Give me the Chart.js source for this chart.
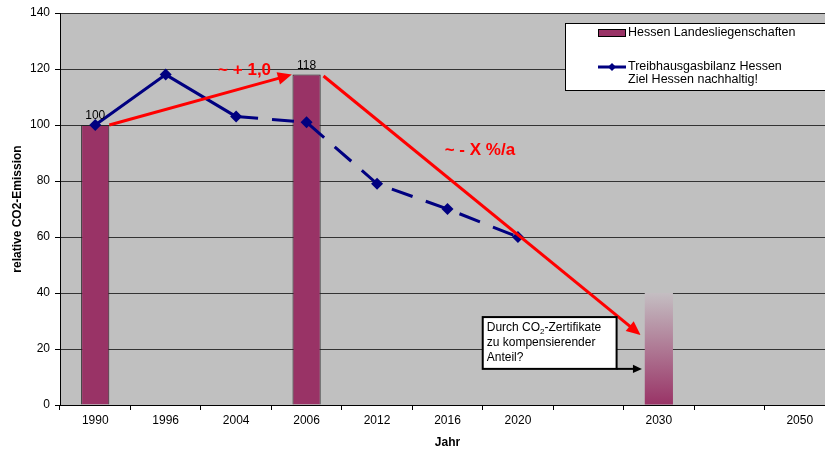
<!DOCTYPE html>
<html>
<head>
<meta charset="utf-8">
<script src="https://cdn.jsdelivr.net/npm/chart.js@4.4.1/dist/chart.umd.min.js"></script>
<style>
  html, body { margin: 0; padding: 0; overflow: hidden; background: #fff; }
</style>
</head>
<body>
<canvas id="chart" width="850" height="450"></canvas>
<script>
// Kategorien (leere Einträge halten die Abstände der Zeitachse)
const years = ['1990', '1996', '2004', '2006', '2012', '2016', '2020', '', '2030', '', '2050'];
// Landesliegenschaften (Balken)
const landesValues = [100, null, null, 118, null, null, null, null, null, null, null];
// offener Anteil 2030 (Verlaufsbalken)
const kompValues = [null, null, null, null, null, null, null, null, 40, null, null];
// Treibhausgasbilanz Hessen (Linie)
const bilanzValues = [100, 118, 103, 101, 79, 70, 60, null, null, null, null];
const bilanzDashedFrom = 2; // ab 2004 gestrichelt

// Trendpfeile in Achsenkoordinaten [Kategorie-Index, Wert]
const trendArrows = [
  { from: [0.2, 100], to: [2.79, 118] },
  { from: [3.24, 117.5], to: [7.74, 25] }
];
const trendLabels = [
  { text: '~ + 1,0', at: [2.12, 119.6] },
  { text: '~ - X %/a', at: [5.46, 91] }
];
// Hinweisbox, ebenfalls in Achsenkoordinaten
const noteBox = { from: [5.5, 31.4], to: [7.4, 12.9], arrowTo: 7.76 };
const noteLines = [['Durch CO', '2', '-Zertifikate'], ['zu kompensierender'], ['Anteil?']];

const FONT = "'Liberation Sans', Arial, sans-serif";
const PURPLE = '#993366';
const NAVY = '#000080';

const barValues = landesValues.map((v, i) => v != null ? v : kompValues[i]);

function drawArrow(ctx, x1, y1, x2, y2, color, width, head) {
  const ang = Math.atan2(y2 - y1, x2 - x1);
  ctx.save();
  ctx.strokeStyle = color;
  ctx.fillStyle = color;
  ctx.lineWidth = width;
  ctx.beginPath();
  ctx.moveTo(x1, y1);
  ctx.lineTo(x2 - Math.cos(ang) * head * 0.8, y2 - Math.sin(ang) * head * 0.8);
  ctx.stroke();
  ctx.beginPath();
  ctx.moveTo(x2, y2);
  ctx.lineTo(x2 - head * Math.cos(ang) + head * 0.45 * Math.sin(ang), y2 - head * Math.sin(ang) - head * 0.45 * Math.cos(ang));
  ctx.lineTo(x2 - head * Math.cos(ang) - head * 0.45 * Math.sin(ang), y2 - head * Math.sin(ang) + head * 0.45 * Math.cos(ang));
  ctx.closePath();
  ctx.fill();
  ctx.restore();
}

const overlay = {
  id: 'overlay',
  beforeDraw(chart) {
    const { ctx, chartArea: a } = chart;
    ctx.save();
    ctx.fillStyle = '#c0c0c0';
    ctx.fillRect(a.left, a.top, a.width, a.height);
    ctx.restore();
  },
  afterDatasetsDraw(chart) {
    const { ctx } = chart;
    const xs = chart.scales.x, ys = chart.scales.y;
    const px = i => xs.getPixelForValue(0) + (xs.getPixelForValue(1) - xs.getPixelForValue(0)) * i;
    const py = v => ys.getPixelForValue(v);

    // Werte über den Balken
    const meta = chart.getDatasetMeta(0);
    ctx.save();
    ctx.font = '12px ' + FONT;
    ctx.fillStyle = '#000';
    ctx.textAlign = 'center';
    ctx.textBaseline = 'bottom';
    landesValues.forEach((v, i) => {
      if (v == null) return;
      const bar = meta.data[i];
      ctx.fillText(String(v), bar.x, bar.y - 3);
    });
    ctx.restore();

    // rote Trendpfeile
    trendArrows.forEach(a => {
      drawArrow(ctx, px(a.from[0]), py(a.from[1]), px(a.to[0]), py(a.to[1]), '#ff0000', 3, 14);
    });
    ctx.save();
    ctx.font = 'bold 17px ' + FONT;
    ctx.fillStyle = '#ff0000';
    ctx.textAlign = 'center';
    ctx.textBaseline = 'middle';
    trendLabels.forEach(l => ctx.fillText(l.text, px(l.at[0]), py(l.at[1])));
    ctx.restore();

    // Hinweisbox mit Pfeil
    const bx1 = px(noteBox.from[0]), by1 = py(noteBox.from[1]);
    const bx2 = px(noteBox.to[0]), by2 = py(noteBox.to[1]);
    ctx.save();
    ctx.fillStyle = '#fff';
    ctx.fillRect(bx1, by1, bx2 - bx1, by2 - by1);
    ctx.strokeStyle = '#000';
    ctx.lineWidth = 2;
    ctx.strokeRect(bx1, by1, bx2 - bx1, by2 - by1);
    ctx.fillStyle = '#000';
    ctx.textBaseline = 'alphabetic';
    noteLines.forEach((parts, li) => {
      let x = bx1 + 4;
      const y = by1 + 14 + li * 15;
      parts.forEach((p, pi) => {
        const sub = parts.length > 1 && pi === 1;
        ctx.font = (sub ? '8px ' : '12px ') + FONT;
        ctx.fillText(p, x, sub ? y + 3 : y);
        x += ctx.measureText(p).width;
      });
    });
    ctx.restore();
    drawArrow(ctx, bx2, by2, px(noteBox.arrowTo), by2, '#000', 2, 9);
  },
  afterDraw(chart) {
    // Legende rechts oben
    const { ctx } = chart;
    ctx.save();
    ctx.fillStyle = '#fff';
    ctx.fillRect(565, 23, 300, 67);
    ctx.strokeStyle = '#000';
    ctx.lineWidth = 1;
    ctx.strokeRect(565.5, 23.5, 300, 67);
    ctx.fillStyle = PURPLE;
    ctx.fillRect(598, 30, 27, 6);
    ctx.strokeRect(598.5, 29.5, 27, 7);
    ctx.strokeStyle = NAVY;
    ctx.lineWidth = 3;
    ctx.beginPath();
    ctx.moveTo(598, 67);
    ctx.lineTo(626, 67);
    ctx.stroke();
    ctx.fillStyle = NAVY;
    ctx.beginPath();
    ctx.moveTo(612, 63); ctx.lineTo(616, 67); ctx.lineTo(612, 71); ctx.lineTo(608, 67);
    ctx.closePath();
    ctx.fill();
    ctx.fillStyle = '#000';
    ctx.font = '12.5px ' + FONT;
    ctx.textBaseline = 'middle';
    ctx.fillText('Hessen Landesliegenschaften', 628, 33);
    ctx.fillText('Treibhausgasbilanz Hessen', 628, 67);
    ctx.fillText('Ziel Hessen nachhaltig!', 628, 80);
    ctx.restore();
  }
};

const ctx = document.getElementById('chart').getContext('2d');
new Chart(ctx, {
  type: 'bar',
  data: {
    labels: years,
    datasets: [
      {
        type: 'bar',
        label: 'Hessen Landesliegenschaften',
        data: barValues,
        backgroundColor: c => {
          if (kompValues[c.dataIndex] == null) return PURPLE;
          const ys = c.chart.scales.y;
          if (!ys) return PURPLE;
          const g = c.chart.ctx.createLinearGradient(0, ys.getPixelForValue(0), 0, ys.getPixelForValue(kompValues[c.dataIndex]));
          g.addColorStop(0, PURPLE);
          g.addColorStop(1, 'rgba(196,190,194,1)');
          return g;
        },
        borderColor: '#222',
        borderWidth: c => kompValues[c.dataIndex] == null ? 1 : 0,
        barPercentage: 0.4,
        categoryPercentage: 1,
        order: 2
      },
      {
        type: 'line',
        label: 'Treibhausgasbilanz Hessen',
        data: bilanzValues,
        borderColor: NAVY,
        backgroundColor: NAVY,
        borderWidth: 3,
        pointStyle: 'rectRot',
        pointRadius: 6,
        pointBorderWidth: 0,
        segment: {
          borderDash: s => s.p0DataIndex >= bilanzDashedFrom ? [22, 14] : undefined
        },
        spanGaps: false,
        order: 1
      }
    ]
  },
  options: {
    responsive: false,
    animation: false,
    layout: { padding: { top: 13, right: 15, left: 0, bottom: 0 } },
    plugins: {
      legend: { display: false },
      tooltip: { enabled: false }
    },
    scales: {
      x: {
        offset: true,
        grid: {
          offset: true,
          drawOnChartArea: false,
          drawTicks: true,
          tickLength: 5,
          color: '#000'
        },
        border: { color: '#000', width: 1 },
        ticks: {
          color: '#000',
          font: { family: FONT, size: 12 },
          padding: 3,
          maxRotation: 0,
          autoSkip: false
        },
        title: {
          display: true,
          text: 'Jahr',
          color: '#000',
          font: { family: FONT, size: 12, weight: 'bold' },
          padding: { top: 4, bottom: 0 }
        },
        afterFit: s => { s.height = 45; }
      },
      y: {
        min: 0,
        max: 140,
        ticks: {
          stepSize: 20,
          color: '#000',
          font: { family: FONT, size: 12 },
          padding: 5
        },
        grid: {
          color: '#333',
          tickLength: 5,
          tickColor: '#000'
        },
        border: { color: '#000', width: 1 },
        title: {
          display: true,
          text: 'relative CO2-Emission',
          color: '#000',
          font: { family: FONT, size: 12, weight: 'bold' },
          padding: { top: 10, bottom: 4 }
        },
        afterFit: s => { s.width = 60; }
      }
    }
  },
  plugins: [overlay]
});
</script>
</body>
</html>
